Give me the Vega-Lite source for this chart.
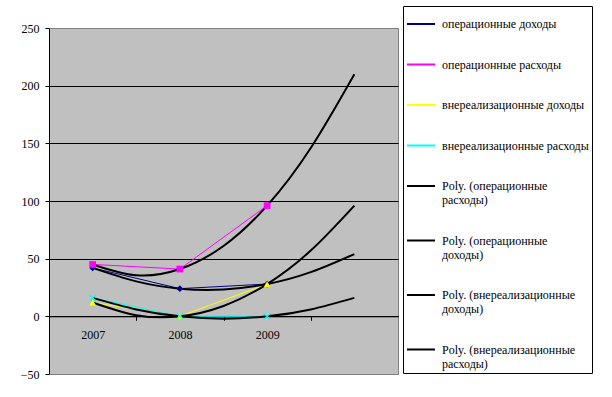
{
  "$schema": "https://vega.github.io/schema/vega-lite/v6.json",
  "width": 349,
  "height": 346,
  "autosize": {"type": "none"},
  "padding": {"left": 49, "top": 28, "right": 214, "bottom": 23},
  "background": "white",
  "config": {
    "view": {"fill": "#C0C0C0", "stroke": "#808080", "strokeWidth": 1},
    "font": "Liberation Serif",
    "axis": {"labelFont": "Liberation Serif", "labelFontSize": 12, "labelColor": "black", "domainColor": "black", "tickColor": "black", "title": null}
  },
  "datasets": {
    "obs": [
      {"series": "операционные доходы", "year": 2007, "value": 42},
      {"series": "операционные доходы", "year": 2008, "value": 24},
      {"series": "операционные доходы", "year": 2009, "value": 28},
      {"series": "операционные расходы", "year": 2007, "value": 45},
      {"series": "операционные расходы", "year": 2008, "value": 41},
      {"series": "операционные расходы", "year": 2009, "value": 96},
      {"series": "внереализационные доходы", "year": 2007, "value": 12},
      {"series": "внереализационные доходы", "year": 2008, "value": 0},
      {"series": "внереализационные доходы", "year": 2009, "value": 28},
      {"series": "внереализационные расходы", "year": 2007, "value": 16},
      {"series": "внереализационные расходы", "year": 2008, "value": 0},
      {"series": "внереализационные расходы", "year": 2009, "value": 0}
    ],
    "trend": [
      {"series": "Poly. (операционные расходы)", "year": 2007, "value": 45},
      {"series": "Poly. (операционные расходы)", "year": 2007.5, "value": 35.6},
      {"series": "Poly. (операционные расходы)", "year": 2008, "value": 41},
      {"series": "Poly. (операционные расходы)", "year": 2008.5, "value": 61},
      {"series": "Poly. (операционные расходы)", "year": 2009, "value": 96},
      {"series": "Poly. (операционные расходы)", "year": 2009.5, "value": 146},
      {"series": "Poly. (операционные расходы)", "year": 2010, "value": 210},
      {"series": "Poly. (операционные доходы)", "year": 2007, "value": 42},
      {"series": "Poly. (операционные доходы)", "year": 2007.5, "value": 30.3},
      {"series": "Poly. (операционные доходы)", "year": 2008, "value": 24},
      {"series": "Poly. (операционные доходы)", "year": 2008.5, "value": 23.3},
      {"series": "Poly. (операционные доходы)", "year": 2009, "value": 28},
      {"series": "Poly. (операционные доходы)", "year": 2009.5, "value": 38.3},
      {"series": "Poly. (операционные доходы)", "year": 2010, "value": 54},
      {"series": "Poly. (внереализационные доходы)", "year": 2007, "value": 12},
      {"series": "Poly. (внереализационные доходы)", "year": 2007.5, "value": 1},
      {"series": "Poly. (внереализационные доходы)", "year": 2008, "value": 0},
      {"series": "Poly. (внереализационные доходы)", "year": 2008.5, "value": 9},
      {"series": "Poly. (внереализационные доходы)", "year": 2009, "value": 28},
      {"series": "Poly. (внереализационные доходы)", "year": 2009.5, "value": 57},
      {"series": "Poly. (внереализационные доходы)", "year": 2010, "value": 96},
      {"series": "Poly. (внереализационные расходы)", "year": 2007, "value": 16},
      {"series": "Poly. (внереализационные расходы)", "year": 2007.5, "value": 6},
      {"series": "Poly. (внереализационные расходы)", "year": 2008, "value": 0},
      {"series": "Poly. (внереализационные расходы)", "year": 2008.5, "value": -2},
      {"series": "Poly. (внереализационные расходы)", "year": 2009, "value": 0},
      {"series": "Poly. (внереализационные расходы)", "year": 2009.5, "value": 6},
      {"series": "Poly. (внереализационные расходы)", "year": 2010, "value": 16}
    ]
  },
  "encoding": {
    "y": {
      "field": "value", "type": "quantitative",
      "scale": {"domain": [-50, 250], "nice": false, "zero": false},
      "axis": {
        "values": [-50, 0, 50, 100, 150, 200, 250],
        "tickSize": 4, "labelPadding": 6, "grid": true,
        "gridColor": {"condition": {"test": "datum.value === 250 || datum.value === -50", "value": "transparent"}, "value": "black"},
        "gridWidth": 1, "domain": true
      }
    },
    "color": {
      "field": "series", "type": "nominal",
      "scale": {
        "domain": ["операционные доходы", "операционные расходы", "внереализационные доходы", "внереализационные расходы", "Poly. (операционные расходы)", "Poly. (операционные доходы)", "Poly. (внереализационные доходы)", "Poly. (внереализационные расходы)"],
        "range": ["#000080", "#FF00FF", "#FFFF00", "#00FFFF", "#000000", "#000000", "#000000", "#000000"]
      },
      "legend": {
        "title": null, "orient": "none", "legendX": 354, "legendY": -22,
        "strokeColor": "black", "fillColor": "white", "padding": 3,
        "labelFont": "Liberation Serif", "labelFontSize": 12, "labelLimit": 200,
        "labelExpr": "indexof(datum.label, 'Poly') === 0 ? [substring(datum.label, 0, lastindexof(datum.label, ' ')), substring(datum.label, lastindexof(datum.label, ' ') + 1)] : datum.label",
        "rowPadding": 19.5, "labelOffset": 6, "labelColor": "black", "symbolType": "stroke", "symbolStrokeWidth": 2, "symbolSize": 784
      }
    }
  },
  "layer": [
    {
      "data": {"name": "obs"},
      "mark": {"type": "line", "strokeWidth": 1},
      "encoding": {
        "x": {
          "field": "year", "type": "quantitative",
          "scale": {"domain": [2006.5, 2010.5], "nice": false, "zero": false},
          "axis": {"orient": "bottom", "values": [2007, 2008, 2009], "format": "d", "ticks": false, "domain": false, "grid": false, "labelPadding": 13, "offset": -57.7}
        }
      }
    },
    {
      "data": {"name": "trend"},
      "mark": {"type": "line", "strokeWidth": 2, "interpolate": "natural"},
      "encoding": {
        "x": {
          "field": "year", "type": "quantitative",
          "scale": {"domain": [2006.5, 2010.5], "nice": false, "zero": false},
          "axis": {"orient": "bottom", "values": [2007.5, 2008.5, 2009.5], "labels": false, "ticks": true, "tickSize": 4, "domain": true, "grid": false, "offset": -57.7}
        }
      }
    },
    {
      "data": {"name": "obs"},
      "transform": [{"filter": "datum.series !== 'внереализационные расходы'"}],
      "mark": {"type": "point", "filled": true, "size": 45, "opacity": 1},
      "encoding": {
        "x": {
          "field": "year", "type": "quantitative",
          "scale": {"domain": [2006.5, 2010.5], "nice": false, "zero": false},
          "axis": null
        },
        "shape": {
          "field": "series", "type": "nominal",
          "scale": {"domain": ["операционные доходы", "операционные расходы", "внереализационные доходы"], "range": ["diamond", "square", "triangle-up"]},
          "legend": null
        }
      }
    },
    {
      "data": {"name": "obs"},
      "transform": [{"filter": "datum.series === 'внереализационные расходы'"}],
      "mark": {"type": "point", "filled": false, "size": 45, "strokeWidth": 1.2, "opacity": 1, "shape": "M-1,-1L1,1M-1,1L1,-1"},
      "encoding": {
        "x": {
          "field": "year", "type": "quantitative",
          "scale": {"domain": [2006.5, 2010.5], "nice": false, "zero": false},
          "axis": null
        }
      }
    }
  ],
  "resolve": {"axis": {"x": "independent"}}
}
